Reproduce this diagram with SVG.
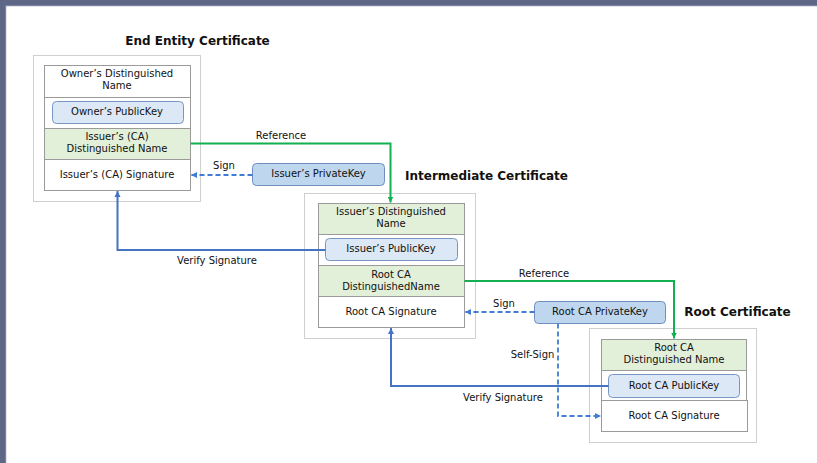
<svg xmlns="http://www.w3.org/2000/svg" width="817" height="463" viewBox="0 0 817 463">
<style>
text{font-family:"DejaVu Sans","Liberation Sans",sans-serif;font-size:10px;fill:#111;text-anchor:middle}
.title{font-size:12px;font-weight:bold}
.outer{fill:#fff;stroke:#cfcfcf;stroke-width:1}
.row{fill:#fff;stroke:#9a9a9a;stroke-width:1}
.dn{fill:#e2efd9;stroke:#9a9a9a;stroke-width:1}
.pub{fill:#dce8f5;stroke:#7896c4;stroke-width:1}
.priv{fill:#bed7ef;stroke:#6e8fc0;stroke-width:1}
.ref{fill:none;stroke:#12b050;stroke-width:2}
.ver{fill:none;stroke:#4472c4;stroke-width:2}
.sign{fill:none;stroke:#3f7cd4;stroke-width:1.8;stroke-dasharray:5 3}
</style>
<defs>
<marker id="ag" markerWidth="8" markerHeight="8" refX="6" refY="4" orient="auto" markerUnits="userSpaceOnUse"><path d="M0,1 L6,4 L0,7 Z" fill="#12b050"/></marker>
<marker id="ab" markerWidth="8" markerHeight="8" refX="6" refY="4" orient="auto" markerUnits="userSpaceOnUse"><path d="M0,1 L6,4 L0,7 Z" fill="#4472c4"/></marker>
<marker id="ad" markerWidth="8" markerHeight="8" refX="6" refY="4" orient="auto" markerUnits="userSpaceOnUse"><path d="M0,1 L6,4 L0,7 Z" fill="#3f7cd4"/></marker>
</defs>
<rect x="0" y="0" width="817" height="463" fill="#fff"/>
<rect x="0" y="0" width="817" height="6" fill="#5f6787"/>
<rect x="0" y="0" width="6" height="463" fill="#5f6787"/>
<rect x="5" y="5" width="812" height="1.2" fill="#7a83a0"/>
<rect x="5" y="5" width="1.2" height="458" fill="#7a83a0"/>

<g id="end-entity">
<text class="title" x="197.5" y="45">End Entity Certificate</text>
<rect class="outer" x="33.5" y="55.5" width="167" height="146"/>
<rect class="row" x="44.5" y="65.5" width="146" height="32"/>
<text x="117" y="77">Owner’s Distinguished</text>
<text x="117" y="89">Name</text>
<rect class="row" x="44.5" y="97.5" width="146" height="31"/>
<rect class="pub" x="52.5" y="101.5" width="131" height="22" rx="4"/>
<text x="117" y="114.5">Owner’s PublicKey</text>
<rect class="dn" x="44.5" y="128.5" width="146" height="31"/>
<text x="117" y="139.5">Issuer’s (CA)</text>
<text x="117" y="151.5">Distinguished Name</text>
<rect class="row" x="44.5" y="159.5" width="146" height="31"/>
<text x="117" y="177.5">Issuer’s (CA) Signature</text>
</g>

<g id="issuer-private-key">
<rect class="priv" x="252.5" y="163.5" width="132" height="22" rx="4"/>
<text x="318.5" y="177">Issuer’s PrivateKey</text>
</g>

<g id="intermediate">
<text class="title" x="486.5" y="180">Intermediate Certificate</text>
<rect class="outer" x="304.5" y="193.5" width="171" height="145"/>
<rect class="dn" x="318.5" y="203.5" width="146" height="31"/>
<text x="391" y="215">Issuer’s Distinguished</text>
<text x="391" y="227">Name</text>
<rect class="row" x="318.5" y="234.5" width="146" height="31"/>
<rect class="pub" x="325.5" y="238.5" width="132" height="22" rx="4"/>
<text x="391" y="252">Issuer’s PublicKey</text>
<rect class="dn" x="318.5" y="265.5" width="146" height="31"/>
<text x="391" y="278">Root CA</text>
<text x="391" y="290">DistinguishedName</text>
<rect class="row" x="318.5" y="296.5" width="146" height="31"/>
<text x="391" y="315">Root CA Signature</text>
</g>

<g id="root-private-key">
<rect class="priv" x="534.5" y="301.5" width="131" height="22" rx="4"/>
<text x="600" y="315">Root CA PrivateKey</text>
</g>

<g id="root">
<text class="title" x="737.5" y="316">Root Certificate</text>
<rect class="outer" x="589.5" y="328.5" width="167" height="114"/>
<rect class="dn" x="601.5" y="339.5" width="145" height="31"/>
<text x="674" y="351">Root CA</text>
<text x="674" y="363">Distinguished Name</text>
<rect class="row" x="601.5" y="370.5" width="145" height="30"/>
<rect class="pub" x="608.5" y="374.5" width="131" height="23" rx="4"/>
<text x="674" y="389">Root CA PublicKey</text>
<rect class="row" x="601.5" y="400.5" width="146" height="31"/>
<text x="674" y="419">Root CA Signature</text>
</g>

<g id="connectors">
<path class="ref" d="M190.5,143.5 H390.5 V202.5" marker-end="url(#ag)"/>
<text x="281" y="139">Reference</text>
<path class="sign" d="M252.5,175 H191" marker-end="url(#ad)"/>
<text x="224" y="168.5">Sign</text>
<path class="ver" d="M325.5,250 H117.5 V191" marker-end="url(#ab)"/>
<text x="217" y="264">Verify Signature</text>
<path class="ref" d="M464.5,281 H674 V338.5" marker-end="url(#ag)"/>
<text x="544" y="277">Reference</text>
<path class="sign" d="M534.5,312 H465" marker-end="url(#ad)"/>
<text x="504" y="307">Sign</text>
<path class="sign" d="M558,323.5 V416 H601" marker-end="url(#ad)"/>
<text x="532.5" y="358">Self-Sign</text>
<path class="ver" d="M608.5,386 H391 V328" marker-end="url(#ab)"/>
<text x="503" y="401">Verify Signature</text>
</g>
</svg>
